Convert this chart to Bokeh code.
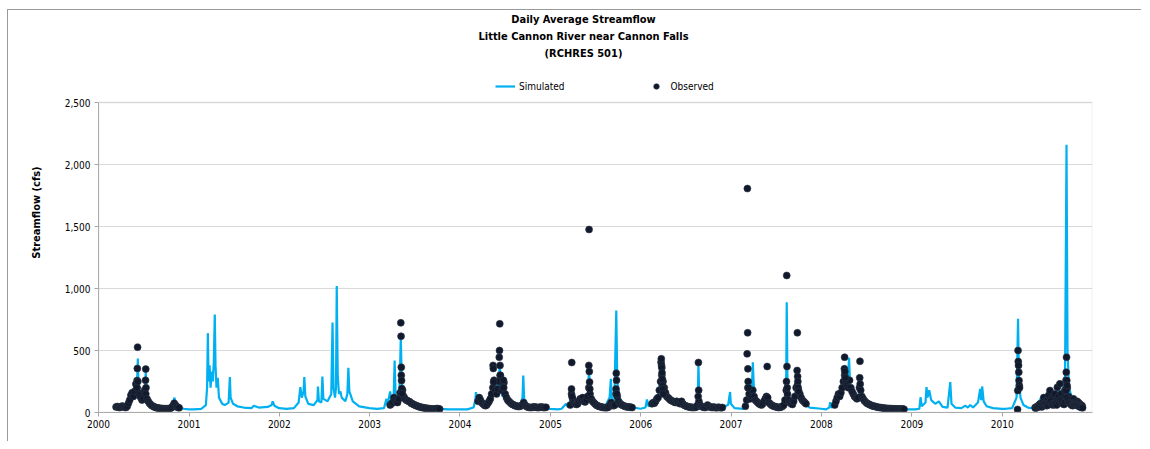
import pandas as pd
from bokeh.plotting import figure
from bokeh.models import (ColumnDataSource, Legend, LegendItem, Label, FixedTicker,
                          DatetimeTickFormatter, NumeralTickFormatter, Range1d, BoxAnnotation)
from bokeh.embed import file_html
from bokeh.resources import INLINE

# ---------------- data ----------------
title_lines = ["Daily Average Streamflow", "Little Cannon River near Cannon Falls", "(RCHRES 501)"]
years = list(range(2000, 2011))
y_ticks = [0, 500, 1000, 1500, 2000, 2500]

# Simulated daily flow (cfs), key points (date, value) per year
sim_2000 = [("03-01", 40), ("03-25", 60), ("04-10", 45), ("04-25", 70), ("05-10", 90), ("05-20", 150),
            ("05-28", 110), ("06-05", 250), ("06-08", 435), ("06-11", 200), ("06-18", 120), ("06-25", 90),
            ("07-05", 100), ("07-10", 330), ("07-13", 150), ("07-22", 80), ("08-05", 60), ("08-20", 50),
            ("09-05", 40), ("09-20", 35), ("10-10", 40), ("10-25", 55), ("11-03", 120), ("11-08", 70),
            ("11-20", 40), ("12-10", 30), ("12-31", 25)]
sim_2001 = [("01-20", 25), ("02-20", 30), ("03-10", 60), ("03-15", 200), ("03-18", 640), ("03-21", 250),
            ("03-25", 380), ("03-29", 200), ("04-03", 330), ("04-07", 250), ("04-11", 400), ("04-15", 790),
            ("04-18", 380), ("04-22", 200), ("04-27", 280), ("05-02", 120), ("05-15", 70), ("05-25", 60),
            ("06-10", 80), ("06-15", 285), ("06-18", 120), ("06-28", 70), ("07-15", 50), ("08-10", 40),
            ("09-10", 35), ("09-20", 55), ("10-10", 40), ("11-15", 45), ("12-01", 60), ("12-05", 90),
            ("12-12", 55), ("12-31", 35)]
sim_2002 = [("01-30", 30), ("03-01", 35), ("03-20", 80), ("03-27", 205), ("04-02", 120), ("04-09", 170),
            ("04-12", 285), ("04-16", 130), ("04-28", 70), ("05-20", 60), ("06-04", 100), ("06-06", 210),
            ("06-10", 90), ("06-20", 80), ("06-24", 290), ("06-28", 110), ("07-15", 90), ("07-30", 150),
            ("08-04", 725), ("08-08", 200), ("08-14", 120), ("08-18", 200), ("08-21", 1020), ("08-25", 300),
            ("08-30", 150), ("09-05", 170), ("09-10", 120), ("09-25", 90), ("10-03", 150), ("10-07", 360),
            ("10-11", 170), ("10-25", 90), ("11-20", 50), ("12-31", 35)]
sim_2003 = [("01-31", 30), ("02-28", 35), ("03-10", 110), ("03-14", 60), ("03-25", 170), ("03-30", 80),
            ("04-08", 120), ("04-12", 420), ("04-16", 130), ("04-25", 90), ("05-02", 200), ("05-07", 605),
            ("05-11", 250), ("05-18", 130), ("05-30", 90), ("06-15", 70), ("07-10", 50), ("08-10", 40),
            ("09-10", 30), ("10-10", 30), ("11-15", 25), ("12-31", 25)]
sim_2004 = [("01-31", 25), ("02-25", 40), ("03-03", 100), ("03-06", 165), ("03-10", 90), ("03-25", 60),
            ("04-15", 70), ("05-01", 110), ("05-20", 180), ("05-28", 250), ("06-05", 200), ("06-10", 405),
            ("06-14", 200), ("06-20", 130), ("06-28", 150), ("07-05", 100), ("07-20", 70), ("08-10", 60),
            ("08-30", 60), ("09-10", 120), ("09-13", 298), ("09-17", 100), ("09-30", 60), ("10-20", 45),
            ("11-20", 40), ("12-31", 30)]
sim_2005 = [("01-31", 25), ("02-15", 30), ("03-05", 70), ("03-12", 45), ("03-22", 90), ("03-28", 200),
            ("04-03", 110), ("04-20", 80), ("05-15", 90), ("06-01", 130), ("06-06", 355), ("06-10", 150),
            ("06-20", 90), ("07-10", 60), ("08-10", 50), ("08-28", 120), ("09-02", 272), ("09-06", 110),
            ("09-16", 80), ("09-24", 823), ("09-28", 250), ("10-05", 130), ("10-20", 70), ("11-15", 45),
            ("12-31", 30)]
sim_2006 = [("01-20", 40), ("01-26", 105), ("02-01", 50), ("02-20", 60), ("03-10", 110), ("03-20", 250),
            ("03-27", 380), ("04-02", 180), ("04-15", 120), ("05-05", 80), ("05-25", 90), ("06-15", 60),
            ("07-15", 45), ("08-15", 50), ("08-20", 150), ("08-22", 395), ("08-26", 100), ("09-10", 50),
            ("10-10", 40), ("11-15", 35), ("12-20", 60), ("12-28", 165), ("12-31", 70)]
sim_2007 = [("01-15", 35), ("02-20", 30), ("03-05", 60), ("03-10", 150), ("03-20", 110), ("03-27", 250),
            ("03-30", 405), ("04-04", 150), ("04-20", 80), ("05-20", 70), ("05-25", 155), ("05-30", 90),
            ("06-20", 60), ("07-20", 50), ("08-05", 70), ("08-12", 300), ("08-14", 890), ("08-17", 250),
            ("08-25", 120), ("09-10", 100), ("09-22", 190), ("09-28", 300), ("10-05", 180), ("10-20", 80),
            ("11-15", 40), ("12-31", 30)]
sim_2008 = [("01-20", 25), ("02-02", 40), ("02-06", 83), ("02-10", 40), ("02-25", 50), ("03-15", 120),
            ("03-25", 200), ("04-05", 380), ("04-10", 250), ("04-18", 300), ("04-22", 441), ("04-26", 230),
            ("05-05", 150), ("05-20", 100), ("06-01", 150), ("06-05", 230), ("06-12", 120), ("06-25", 80),
            ("07-20", 50), ("08-20", 40), ("09-20", 30), ("10-20", 30), ("11-30", 25), ("12-31", 25)]
sim_2009 = [("01-15", 25), ("01-31", 30), ("02-05", 123), ("02-10", 50), ("02-25", 80), ("03-01", 205),
            ("03-05", 120), ("03-12", 180), ("03-20", 100), ("04-05", 70), ("04-20", 90), ("05-05", 45),
            ("05-25", 40), ("06-05", 245), ("06-10", 70), ("06-25", 40), ("07-20", 35), ("08-05", 55),
            ("08-15", 40), ("08-25", 60), ("09-05", 40), ("09-25", 80), ("10-04", 190), ("10-08", 100),
            ("10-12", 210), ("10-18", 90), ("10-30", 50), ("11-25", 35), ("12-31", 30)]
sim_2010 = [("01-15", 30), ("02-10", 35), ("02-28", 120), ("03-06", 755), ("03-10", 250), ("03-16", 120),
            ("03-28", 60), ("04-15", 40), ("05-01", 35), ("05-14", 50), ("05-25", 70), ("06-05", 110),
            ("06-15", 140), ("06-25", 100), ("07-05", 130), ("07-15", 170), ("07-25", 130), ("08-05", 160),
            ("08-15", 200), ("08-25", 140), ("09-05", 180), ("09-12", 300), ("09-18", 2160), ("09-22", 500),
            ("09-28", 200), ("10-05", 150), ("10-15", 100), ("10-25", 110), ("11-05", 70), ("11-20", 60)]
sim_years = {2000: sim_2000, 2001: sim_2001, 2002: sim_2002, 2003: sim_2003, 2004: sim_2004,
             2005: sim_2005, 2006: sim_2006, 2007: sim_2007, 2008: sim_2008, 2009: sim_2009, 2010: sim_2010}

# Observed flow (cfs): sampled every 5 days from a season start date
obs_2000_start, obs_2000 = "2000-03-12", [45, 48, 42, 40, 45, 52, 48, 42, 40, 50, 75, 100, 140, 160, 130, 170,
    230, 200, 160, 140, 120, 100, 110, 180, 150, 110, 90, 75, 65, 55, 50, 45, 40, 38, 36, 35, 33, 32, 32,
    30, 30, 31, 30, 32, 35, 40, 55, 75, 60, 48, 40, 38]
obs_2003_start, obs_2003 = "2003-03-25", [60, 70, 80, 120, 100, 85, 80, 110, 160, 300, 180, 130, 110, 100, 95,
    90, 85, 75, 70, 65, 60, 55, 52, 48, 45, 42, 40, 38, 36, 35, 33, 32, 30, 30, 28, 28, 27, 30, 32, 30, 28]
obs_2004_start, obs_2004 = "2004-03-14", [90, 120, 100, 80, 70, 60, 55, 60, 75, 90, 110, 150, 200, 260, 180,
    150, 190, 250, 300, 180, 200, 240, 150, 120, 100, 90, 80, 70, 65, 60, 55, 52, 50, 48, 50, 55, 60, 80, 60,
    50, 45, 42, 40, 40, 42, 45, 44, 42, 40, 40, 42, 45, 43, 40, 40, 42]
obs_2005_start, obs_2005 = "2005-03-22", [60, 150, 110, 80, 70, 65, 70, 90, 110, 100, 120, 90, 85, 100, 130,
    200, 150, 110, 90, 80, 70, 60, 55, 50, 48, 45, 42, 40, 40, 38, 40, 45, 60, 80, 60, 55, 60, 150, 130, 90,
    75, 65, 60, 55, 50, 48, 45, 45, 44, 42, 40]
obs_2006_start, obs_2006 = "2006-02-15", [70, 80, 75, 90, 110, 120, 180, 250, 300, 250, 200, 160, 130, 120,
    110, 100, 95, 90, 85, 80, 90, 85, 75, 70, 90, 70, 60, 55, 50, 48, 45, 43, 42, 40, 40, 42, 45, 60, 90,
    60, 50, 45, 42, 40, 45, 60, 50, 45, 42, 40, 45, 40, 38, 40, 42, 40, 38, 40]
obs_2007_start, obs_2007 = "2007-02-28", [50, 100, 200, 150, 110, 130, 180, 130, 100, 90, 80, 70, 65, 60, 70,
    90, 110, 130, 120, 80, 70, 60, 55, 50, 48, 45, 42, 40, 42, 45, 50, 60, 100, 180, 150, 100, 80, 70, 65,
    90, 130, 200, 220, 180, 150, 120, 100, 90, 80, 70]
obs_2008_start, obs_2008 = "2008-02-24", [60, 90, 120, 150, 130, 160, 200, 250, 300, 250, 220, 200, 260, 200,
    170, 150, 130, 120, 110, 120, 200, 180, 130, 110, 95, 85, 75, 70, 65, 60, 55, 52, 50, 48, 45, 42, 40,
    40, 38, 36, 35, 34, 33, 32, 32, 31, 30, 30, 30, 29, 29, 28, 28, 28, 28, 28, 27]
obs_2010_start, obs_2010 = "2010-05-14", [40, 45, 50, 60, 70, 60, 80, 120, 90, 70, 100, 140, 177, 110, 80,
    120, 150, 100, 204, 130, 231, 150, 100, 120, 180, 260, 200, 130, 100, 80, 90, 110, 80, 70, 90, 80, 70,
    60, 55]
obs_2010b_start, obs_2010b = "2010-05-16", [35, 40, 45, 50, 55, 45, 60, 70, 65, 55, 60, 80, 90, 70, 60, 65,
    75, 60, 90, 80, 100, 85, 70, 65, 90, 120, 100, 80, 70, 60, 55, 60, 65, 60, 55, 50, 45, 40, 38]
obs_seasons = [(obs_2000_start, obs_2000), (obs_2003_start, obs_2003), (obs_2004_start, obs_2004),
               (obs_2005_start, obs_2005), (obs_2006_start, obs_2006), (obs_2007_start, obs_2007),
               (obs_2008_start, obs_2008), (obs_2010_start, obs_2010), (obs_2010b_start, obs_2010b)]

# Observed values on single days (storm peaks)
obs_peaks = [("2000-06-04", 200), ("2000-06-05", 258), ("2000-06-06", 355), ("2000-06-07", 527), ("2000-06-08", 250),
             ("2000-07-09", 260), ("2000-07-10", 350), ("2000-07-11", 200),
             ("2003-05-07", 723), ("2003-05-08", 615), ("2003-05-09", 365), ("2003-05-10", 258),
             ("2003-05-11", 193), ("2003-05-12", 153),
             ("2004-05-14", 380), ("2004-05-15", 355), ("2004-05-16", 245), ("2004-06-08", 446),
             ("2004-06-09", 500), ("2004-06-10", 715), ("2004-06-11", 380), ("2004-06-12", 300),
             ("2004-06-24", 245), ("2004-06-25", 260), ("2004-06-26", 200),
             ("2005-03-27", 190), ("2005-03-28", 403), ("2005-03-29", 130), ("2005-06-05", 380),
             ("2005-06-06", 1476), ("2005-06-07", 330), ("2005-06-08", 245), ("2005-06-09", 190),
             ("2005-09-23", 190), ("2005-09-24", 317), ("2005-09-25", 260), ("2005-09-26", 150),
             ("2006-03-24", 405), ("2006-03-25", 433), ("2006-03-26", 380), ("2006-03-27", 360),
             ("2006-03-28", 320), ("2006-03-29", 270), ("2006-03-30", 215), ("2006-03-31", 190),
             ("2006-04-02", 150), ("2006-08-21", 130), ("2006-08-22", 403), ("2006-08-23", 180),
             ("2007-03-07", 473), ("2007-03-08", 1806), ("2007-03-09", 643), ("2007-03-10", 352),
             ("2007-03-11", 250), ("2007-03-12", 200), ("2007-05-27", 371),
             ("2007-08-13", 250), ("2007-08-14", 1105), ("2007-08-15", 371), ("2007-08-16", 200),
             ("2007-09-25", 339), ("2007-09-26", 643), ("2007-09-27", 290), ("2007-09-28", 250),
             ("2007-09-29", 200), ("2007-09-30", 170),
             ("2008-04-03", 352), ("2008-04-04", 446), ("2008-04-05", 330), ("2008-04-07", 280),
             ("2008-06-04", 280), ("2008-06-05", 413), ("2008-06-06", 230),
             ("2010-03-04", 25), ("2010-03-05", 177), ("2010-03-06", 500), ("2010-03-07", 411),
             ("2010-03-08", 380), ("2010-03-09", 325), ("2010-03-10", 258), ("2010-03-11", 218),
             ("2010-03-12", 200),
             ("2010-09-16", 177), ("2010-09-17", 325), ("2010-09-18", 446), ("2010-09-19", 258),
             ("2010-09-20", 218)]

# ---------------- build sources ----------------
sim_x, sim_y = [], []
for yr, pts in sim_years.items():
    for md, v in pts:
        sim_x.append(pd.Timestamp(f"{yr}-{md}"))
        sim_y.append(v)
sim_src = ColumnDataSource(dict(x=sim_x, y=sim_y))

obs_x, obs_y = [], []
for start, vals in obs_seasons:
    obs_x += list(pd.date_range(start, periods=len(vals), freq="5D"))
    obs_y += vals
for d, v in obs_peaks:
    obs_x.append(pd.Timestamp(d))
    obs_y.append(v)
obs_src = ColumnDataSource(dict(x=obs_x, y=obs_y))

FONT = "'Liberation Sans Narrow', 'Arial Narrow', 'DejaVu Sans Condensed', sans-serif"

x0 = pd.Timestamp("2000-01-01").value // 10**6
x1 = pd.Timestamp("2011-01-01").value // 10**6
y_axis_max = y_ticks[-1]
# frame extends above the value axis so the titles and legend sit inside it
y_top = y_axis_max * 400 / 310

p = figure(width=1134, height=432, x_axis_type="datetime",
           x_range=Range1d(x0, x1), y_range=Range1d(0, y_top),
           output_backend="svg", toolbar_location=None,
           min_border_left=90, min_border_right=50, min_border_top=2, min_border_bottom=30)
p.styles = {"border-left": "1px solid #9a9a9a", "border-top": "1px solid #9a9a9a",
            "margin-left": "7px", "margin-top": "9px"}
p.outline_line_color = None
p.xgrid.visible = False
p.ygrid.grid_line_color = "#d9d9d9"
p.ygrid.ticker = FixedTicker(ticks=y_ticks)

# plot-area border (top and right edges of the value area)
p.add_layout(BoxAnnotation(left=x0, right=x1, bottom=0, top=y_axis_max, fill_alpha=0,
                           line_color="#d0d0d0", line_width=2))

p.xaxis.ticker = FixedTicker(ticks=[pd.Timestamp(f"{y}-01-01").value // 10**6 for y in years])
p.xaxis.formatter = DatetimeTickFormatter(years="%Y", months="%Y", days="%Y", hours="%Y",
                                          minutes="%Y", seconds="%Y", milliseconds="%Y")
p.yaxis.ticker = FixedTicker(ticks=y_ticks)
p.yaxis.bounds = (0, y_axis_max)
p.yaxis.formatter = NumeralTickFormatter(format="0,0")
p.yaxis.axis_label = "Streamflow (cfs)"
p.yaxis.axis_label_text_font = FONT
p.yaxis.axis_label_text_font_style = "bold"
p.yaxis.axis_label_text_font_size = "11px"
p.yaxis.axis_label_text_color = "#000000"
p.yaxis.axis_label_standoff = 19
for ax in (p.xaxis[0], p.yaxis[0]):
    ax.axis_line_color = "#a6a6a6"
    ax.major_tick_line_color = "#a6a6a6"
    ax.minor_tick_line_color = None
    ax.major_tick_in = 0
    ax.major_tick_out = 4
    ax.major_label_text_font = FONT
    ax.major_label_text_font_size = "10px"
    ax.major_label_text_color = "#000000"
p.xaxis.major_label_standoff = 3
p.yaxis.major_label_standoff = 4

sim_r = p.line("x", "y", source=sim_src, line_color="#00b0f0", line_width=2.2)
obs_r = p.scatter("x", "y", source=obs_src, size=7, fill_color="#111a2c",
                  line_color="#2e3646", line_width=0.6)

for i, t in enumerate(title_lines):
    p.add_layout(Label(x=485, y=393 - 17 * i, x_units="screen", y_units="screen", text=t,
                       text_align="center", text_baseline="middle", text_font=FONT,
                       text_font_size="11px", text_font_style="bold", text_color="#000000"))

legend = Legend(items=[LegendItem(label="Simulated", renderers=[sim_r]),
                       LegendItem(label="Observed", renderers=[obs_r])],
                orientation="horizontal", location=(397, 319),
                glyph_width=20, glyph_height=14, label_height=14, label_standoff=4,
                spacing=82, padding=0, margin=0, border_line_color=None,
                background_fill_alpha=0, label_text_font=FONT, label_text_font_size="10px",
                label_text_color="#000000")
p.add_layout(legend, "center")

open("out.html", "w").write(file_html(p, INLINE))
